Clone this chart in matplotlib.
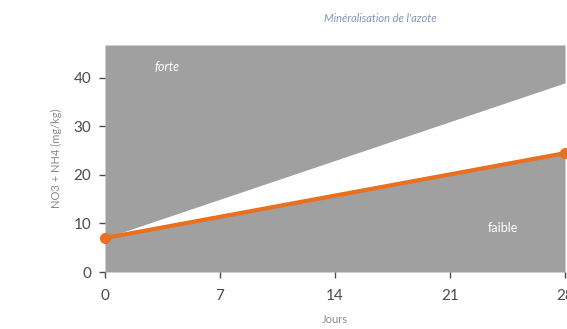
import matplotlib.pyplot as plt
import numpy as np

# data
jours = [0, 28]
forte = [7, 39]       # upper limit of the white band
mesure = [7, 24.5]    # orange line
ticks_x = [0, 7, 14, 21, 28]
ticks_y = [0, 10, 20, 30, 40]

gris = "#a0a0a0"
orange = "#e8701e"

plt.rcParams['font.family'] = ['Lato', 'DejaVu Sans']

fig = plt.figure(figsize=(5.67, 3.29), dpi=100)
ax = fig.add_axes([105/567, 57/329, 460/567, 227/329])

ymax = 46.8
ax.fill_between(jours, forte, ymax, color=gris, linewidth=0)
ax.fill_between(jours, 0, mesure, color=gris, linewidth=0)
ax.plot(jours, mesure, color=orange, linewidth=3, marker="o", markersize=7,
        clip_on=False, zorder=5)

ax.set_xlim(0, 28)
ax.set_ylim(0, ymax)
ax.set_xticks(ticks_x)
ax.set_yticks(ticks_y)
for s in ax.spines.values():
    s.set_visible(False)
ax.tick_params(colors="#4a4a4a", labelsize=11, length=4, width=1)
ax.tick_params(axis="x", pad=8)
ax.tick_params(axis="y", pad=6)

ax.text(3.0, 41.5, "forte", color="white", fontsize=9, style="italic")
ax.text(23.3, 8.2, "faible", color="white", fontsize=9)

ax.set_xlabel("Jours", color="#8a8a8a", fontsize=8, labelpad=8)
ax.set_ylabel("NO3 + NH4 (mg/kg)", color="#8a8a8a", fontsize=8, labelpad=8)
fig.text(380/567, 1 - 18/329, "Minéralisation de l'azote", color="#8396b8",
         fontsize=8, style="italic", ha="center", va="center")

plt.savefig("out.png")
